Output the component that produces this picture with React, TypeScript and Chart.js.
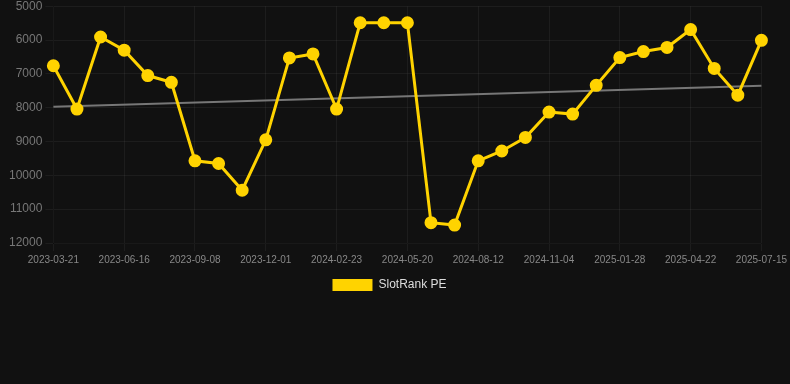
import React, { useEffect, useRef } from "react";
import { Chart, registerables } from "chart.js";

Chart.register(...registerables);

const labels: string[] = [
  "2023-03-21", "2023-04-19", "2023-05-18", "2023-06-16", "2023-07-14", "2023-08-11",
  "2023-09-08", "2023-10-06", "2023-11-03", "2023-12-01", "2023-12-29", "2024-01-26",
  "2024-02-23", "2024-03-22", "2024-04-21", "2024-05-20", "2024-06-17", "2024-07-15",
  "2024-08-12", "2024-09-09", "2024-10-07", "2024-11-04", "2024-12-02", "2024-12-31",
  "2025-01-28", "2025-02-25", "2025-03-25", "2025-04-22", "2025-05-20", "2025-06-17",
  "2025-07-15",
];

const rankValues: number[] = [
  6760, 8040, 5910, 6300, 7050, 7250, 9570, 9650, 10440, 8950, 6530, 6410,
  8040, 5490, 5490, 5490, 11400, 11470, 9570, 9280, 8880, 8130, 8190, 7340,
  6520, 6340, 6220, 5690, 6840, 7630, 6010,
];

const trendStart = 7970;
const trendEnd = 7350;
const trendValues: (number | null)[] = labels.map((_, i) =>
  i === 0 ? trendStart : i === labels.length - 1 ? trendEnd : null
);

const yTicks = { min: 5000, max: 12000, step: 1000 };

export default function App() {
  const ref = useRef<HTMLCanvasElement | null>(null);

  useEffect(() => {
    document.body.style.margin = "0";
    document.body.style.background = "#111111";
    const ctx = ref.current!.getContext("2d")!;
    const chart = new Chart(ctx, {
      type: "line",
      data: {
        labels,
        datasets: [
          {
            label: "SlotRank PE",
            data: rankValues,
            borderColor: "#ffd300",
            backgroundColor: "#ffd300",
            borderWidth: 3,
            pointRadius: 5,
            pointBackgroundColor: "#ffd300",
            pointBorderColor: "#ffd300",
            tension: 0,
          },
          {
            label: "trend",
            data: trendValues,
            borderColor: "#777777",
            backgroundColor: "#777777",
            borderWidth: 2,
            pointRadius: 0,
            spanGaps: true,
          },
        ],
      },
      options: {
        animation: false,
        responsive: true,
        maintainAspectRatio: false,
        layout: { padding: { left: 6, right: 17 } },
        plugins: {
          legend: {
            position: "bottom",
            labels: {
              color: "#dddddd",
              font: { size: 12 },
              filter: (item: any) => {
                item.lineWidth = 0;
                return item.text !== "trend";
              },
            },
          },
          tooltip: { enabled: false },
        },
        scales: {
          x: {
            grid: { color: "rgba(255,255,255,0.05)" },
            ticks: { color: "#888888", font: { size: 10 }, maxRotation: 0 },
          },
          y: {
            reverse: true,
            min: yTicks.min,
            max: yTicks.max,
            grid: { color: "rgba(255,255,255,0.05)" },
            ticks: {
              color: "#777777",
              font: { size: 12 },
              stepSize: yTicks.step,
              callback: (v: any) => String(v),
            },
          },
        },
      },
    });
    return () => chart.destroy();
  }, []);

  return (
    <div style={{ width: 790, height: 305, marginTop: -4, background: "#111111" }}>
      <canvas ref={ref} />
    </div>
  );
}
